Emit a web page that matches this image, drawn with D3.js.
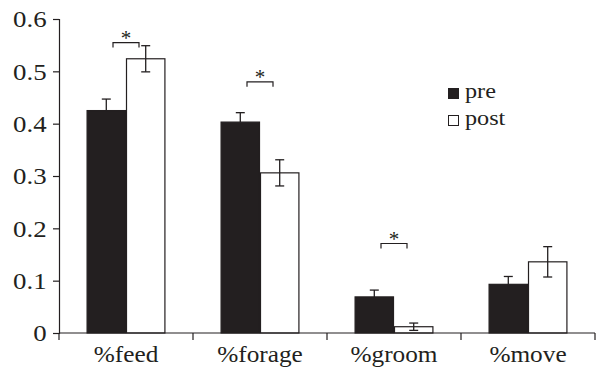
<!DOCTYPE html>
<html>
<head>
<meta charset="utf-8">
<script src="https://cdn.jsdelivr.net/npm/d3@7"></script>
<style>
    body { margin: 0; background: #fff; }
    text { font-family: "Liberation Serif", Tinos, "Times New Roman", "Nimbus Roman", "Nimbus Roman No9 L", FreeSerif, Times, serif; fill: #231f20; }
</style>
</head>
<body>
<script>
const categories = ["%feed", "%forage", "%groom", "%move"];
const groups = ["pre", "post"];
const preValues = [0.425, 0.403, 0.069, 0.093];
const preErrors = [0.022, 0.018, 0.013, 0.015];
const postValues = [0.524, 0.306, 0.012, 0.136];
const postErrors = [0.025, 0.025, 0.007, 0.029];
const yTicks = [0, 0.1, 0.2, 0.3, 0.4, 0.5, 0.6];
// significance brackets: which category, and the height (data units) of the bracket
const sigCategories = ["%feed", "%forage", "%groom"];
const sigLevels = [0.555, 0.480, 0.171];

const width = 599;
const height = 369;
const ink = "#231f20";

const svg = d3.select("body").append("svg")
    .attr("width", width)
    .attr("height", height);

const y = d3.scaleLinear()
    .domain([0, 0.6])
    .range([333, 19]);

const x0 = d3.scaleBand()
    .domain(categories)
    .range([59, 595]);

const x1 = d3.scaleBand()
    .domain(groups)
    .range([0, x0.bandwidth()])
    .paddingInner(0)
    .paddingOuter(0.7);

const color = d3.scaleOrdinal()
    .domain(groups)
    .range([ink, "#ffffff"]);

// flatten the series into one list of bars
let bars = [];
categories.forEach(function (c, i) {
    bars.push({ cat: c, group: "pre", value: preValues[i], err: preErrors[i] });
    bars.push({ cat: c, group: "post", value: postValues[i], err: postErrors[i] });
});

let barGroup = svg.append("g");

barGroup.selectAll("rect")
    .data(bars)
    .enter().append("rect")
    .attr("x", function (d) { return x0(d.cat) + x1(d.group) + 0.5; })
    .attr("y", function (d) { return y(d.value); })
    .attr("width", x1.bandwidth() - 1)
    .attr("height", function (d) { return y(0) - y(d.value); })
    .attr("fill", function (d) { return color(d.group); })
    .attr("stroke", ink)
    .attr("stroke-width", 1.2);

// error bars
const capHalf = 4.5;
let errGroup = svg.append("g")
    .attr("stroke", ink)
    .attr("stroke-width", 1.3)
    .attr("fill", "none");

let errBar = errGroup.selectAll("g")
    .data(bars)
    .enter().append("g")
    .attr("transform", function (d) {
        return "translate(" + (x0(d.cat) + x1(d.group) + x1.bandwidth() / 2) + ",0)";
    });

errBar.append("line")
    .attr("x1", 0).attr("x2", 0)
    .attr("y1", function (d) { return d.group == "pre" ? y(d.value) : y(d.value - d.err); })
    .attr("y2", function (d) { return y(d.value + d.err); });

errBar.append("line")
    .attr("x1", -capHalf).attr("x2", capHalf)
    .attr("y1", function (d) { return y(d.value + d.err); })
    .attr("y2", function (d) { return y(d.value + d.err); });

errBar.filter(function (d) { return d.group == "post"; })
    .append("line")
    .attr("x1", -capHalf).attr("x2", capHalf)
    .attr("y1", function (d) { return y(d.value - d.err); })
    .attr("y2", function (d) { return y(d.value - d.err); });

// y axis
let yAxis = svg.append("g")
    .attr("transform", "translate(59,0)")
    .call(d3.axisLeft(y)
        .tickValues(yTicks)
        .tickSize(6)
        .tickPadding(5)
        .tickFormat(function (d) { return d === 0 ? "0" : d.toFixed(1); }));

yAxis.select(".domain").attr("stroke", ink).attr("stroke-width", 1.2);
yAxis.selectAll(".tick line").attr("stroke", ink).attr("stroke-width", 1.2);
// the original type is a little wider than Times, so stretch it sideways
yAxis.selectAll("text")
    .attr("font-size", 24)
    .attr("fill", ink)
    .attr("transform", "scale(1.12,1)");

// x axis: labels centred in each band, ticks on band boundaries
let xAxis = svg.append("g")
    .attr("transform", "translate(0," + y(0) + ")");

xAxis.append("line")
    .attr("x1", x0.range()[0])
    .attr("x2", x0.range()[1])
    .attr("stroke", ink)
    .attr("stroke-width", 1.2);

let boundaries = d3.range(categories.length + 1).map(function (i) { return x0.range()[0] + i * x0.step(); });

xAxis.selectAll(".bound")
    .data(boundaries)
    .enter().append("line")
    .attr("class", "bound")
    .attr("x1", function (d) { return d; })
    .attr("x2", function (d) { return d; })
    .attr("y1", 0)
    .attr("y2", 7)
    .attr("stroke", ink)
    .attr("stroke-width", 1.2);

xAxis.selectAll(".label")
    .data(categories)
    .enter().append("text")
    .attr("class", "label")
    .attr("transform", function (d) { return "translate(" + (x0(d) + x0.bandwidth() / 2) + ",29) scale(1.1,1)"; })
    .attr("text-anchor", "middle")
    .attr("font-size", 23)
    .text(function (d) { return d; });

// significance brackets
const bracketHalf = 13;
let sig = svg.append("g");

sigCategories.forEach(function (c, i) {
    let cx = x0(c) + x0.bandwidth() / 2;
    let by = y(sigLevels[i]);
    sig.append("path")
        .attr("d", "M" + (cx - bracketHalf) + "," + (by + 5) + "V" + by + "H" + (cx + bracketHalf) + "V" + (by + 5))
        .attr("fill", "none")
        .attr("stroke", ink)
        .attr("stroke-width", 1.2);
    sig.append("text")
        .attr("x", cx)
        .attr("y", by + 2)
        .attr("text-anchor", "middle")
        .attr("font-size", 21)
        .text("*");
});

// legend
let legend = svg.append("g")
    .attr("transform", "translate(448,88)");

let legendItem = legend.selectAll("g")
    .data(groups)
    .enter().append("g")
    .attr("transform", function (d, i) { return "translate(0," + (i * 27) + ")"; });

legendItem.append("rect")
    .attr("x", 0.5)
    .attr("y", 0.5)
    .attr("width", 10)
    .attr("height", 10)
    .attr("fill", function (d) { return color(d); })
    .attr("stroke", ink)
    .attr("stroke-width", 1);

legendItem.append("text")
    .attr("transform", "translate(17,10) scale(1.1,1)")
    .attr("font-size", 22)
    .text(function (d) { return d; });
</script>
</body>
</html>
